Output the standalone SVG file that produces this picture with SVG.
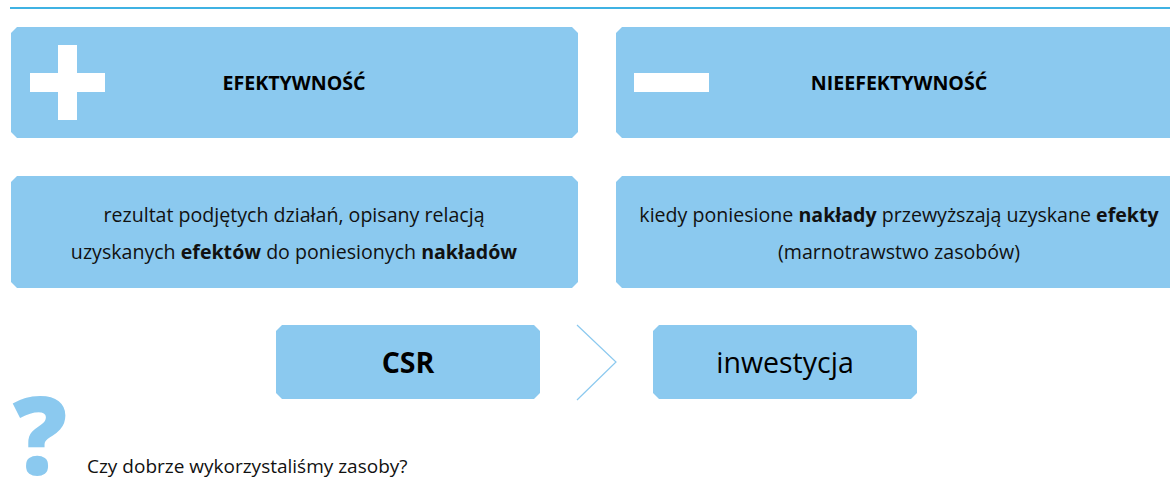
<svg xmlns="http://www.w3.org/2000/svg" width="1170" height="489" viewBox="0 0 1170 489">
  <style>
    .box { fill: #8bc9ef; }
    .sign { fill: #ffffff; }
    .head { font-family: "Open Sans", "Noto Sans", sans-serif; font-weight: 700; font-size: 19.6px; fill: #000; text-anchor: middle; }
    .body { font-family: "Open Sans", "Noto Sans", sans-serif; font-weight: 400; font-size: 19.6px; fill: #111; text-anchor: middle; }
    .b { font-weight: 700; }
    .big { font-family: "Open Sans", "Noto Sans", sans-serif; font-size: 28.5px; fill: #000; text-anchor: middle; }
    .link { fill: none; stroke: #8bc9ef; stroke-width: 1.2; }
  </style>

  <!-- top rule -->
  <line x1="10" y1="8" x2="1170" y2="8" stroke="#3fb2e3" stroke-width="2"/>

  <!-- row 1: headings -->
  <g id="efektywnosc">
    <path class="box" d="M17 27 H572 L578 33 V132 L572 138 H17 L11 132 V33 Z"/>
    <rect class="sign" x="30" y="73" width="75" height="19"/>
    <rect class="sign" x="58" y="45" width="19" height="75"/>
    <text class="head" x="294" y="90">EFEKTYWNOŚĆ</text>
  </g>
  <g id="nieefektywnosc">
    <path class="box" d="M622 27 H1183 V138 H622 L616 132 V33 Z"/>
    <rect class="sign" x="634" y="73" width="75" height="19"/>
    <text class="head" x="899" y="90">NIEEFEKTYWNOŚĆ</text>
  </g>

  <!-- row 2: definitions -->
  <g id="efektywnosc-opis">
    <path class="box" d="M17 176 H572 L578 182 V282 L572 288 H17 L11 282 V182 Z"/>
    <text class="body" x="294" y="222">rezultat podjętych działań, opisany relacją</text>
    <text class="body" x="294" y="259">uzyskanych <tspan class="b">efektów</tspan> do poniesionych <tspan class="b">nakładów</tspan></text>
  </g>
  <g id="nieefektywnosc-opis">
    <path class="box" d="M622 176 H1183 V288 H622 L616 282 V182 Z"/>
    <text class="body" x="899" y="222">kiedy poniesione <tspan class="b">nakłady</tspan> przewyższają uzyskane <tspan class="b">efekty</tspan></text>
    <text class="body" x="899" y="259">(marnotrawstwo zasobów)</text>
  </g>

  <!-- row 3: CSR as investment -->
  <g id="csr">
    <path class="box" d="M282 325 H534 L540 331 V393 L534 399 H282 L276 393 V331 Z"/>
    <text class="big" x="408" y="373" font-weight="700">CSR</text>
  </g>
  <g id="inwestycja">
    <path class="box" d="M659 325 H911 L917 331 V393 L911 399 H659 L653 393 V331 Z"/>
    <text class="big" x="785" y="373" font-weight="400">inwestycja</text>
  </g>
  <g id="connectors">
    <polyline class="link" points="577,325 616,362 577,400"/>
  </g>

  <!-- question -->
  <g id="pytanie">
    <text x="40" y="475" font-family="Open Sans, Noto Sans, sans-serif" font-weight="800" font-size="108" fill="#8bc9ef" text-anchor="middle">?</text>
    <text x="87" y="473" font-family="Open Sans, Noto Sans, sans-serif" font-size="19" fill="#111">Czy dobrze wykorzystaliśmy zasoby?</text>
  </g>
</svg>
